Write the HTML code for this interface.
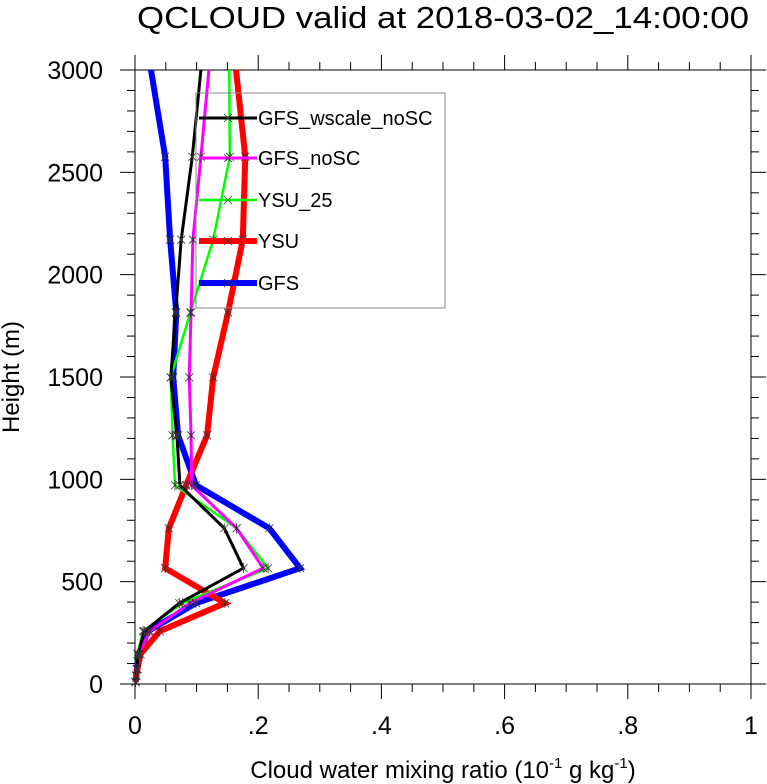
<!DOCTYPE html>
<html><head><meta charset="utf-8"><style>
html,body{margin:0;padding:0;background:#fff;}
svg{display:block;font-family:"Liberation Sans",sans-serif;}
</style></head><body>
<svg id="chart" width="767" height="784" xmlns="http://www.w3.org/2000/svg">
<text x="443" y="28" font-size="31" text-anchor="middle" textLength="612" lengthAdjust="spacingAndGlyphs">QCLOUD valid at 2018-03-02_14:00:00</text>
<text x="443" y="778" font-size="24" text-anchor="middle">Cloud water mixing ratio (10<tspan dy="-10" font-size="15">-1</tspan><tspan dy="10"> g kg</tspan><tspan dy="-10" font-size="15">-1</tspan><tspan dy="10">)</tspan></text>
<text transform="translate(19,377) rotate(-90)" font-size="24" text-anchor="middle">Height (m)</text>
<g id="axes"></g>
<g id="series"></g>
<g id="legend"></g>
</svg>
<script>
const heights=[10,40,73,146,258,395,566,761,971,1215,1498,1815,2171,2576,3000];
const seriesNames=["GFS_wscale_noSC","GFS_noSC","YSU_25","YSU","GFS"];
const gfsWscaleNoSC=[0.001,0.002,0.003,0.005,0.015,0.072,0.176,0.145,0.073,0.068,0.058,0.066,0.075,0.093,0.107];
const gfsNoSC=[0.001,0.002,0.003,0.006,0.024,0.089,0.208,0.165,0.092,0.091,0.088,0.091,0.094,0.107,0.12];
const ysu25=[0.001,0.002,0.003,0.004,0.013,0.077,0.216,0.165,0.065,0.061,0.058,0.09,0.127,0.154,0.153];
const ysu=[0.001,0.002,0.004,0.009,0.04,0.146,0.049,0.055,0.083,0.117,0.127,0.151,0.175,0.179,0.164];
const gfs=[0.001,0.002,0.003,0.006,0.021,0.099,0.268,0.218,0.099,0.07,0.062,0.067,0.057,0.049,0.026];
const xTickLabels=["0",".2",".4",".6",".8","1"];
const yTickLabels=["0","500","1000","1500","2000","2500","3000"];
const NS="http://www.w3.org/2000/svg";
const X0=135,X1=751,Y0=684,Y1=70;
function xs(v){return X0+(X1-X0)*v;}
function ys(h){return Y0-(Y0-Y1)*h/3000;}
function mk(t,a,p){const e=document.createElementNS(NS,t);for(const k in a)e.setAttribute(k,a[k]);p.appendChild(e);return e;}
const axes=document.getElementById('axes');
const frame=mk('rect',{x:X0,y:Y1,width:X1-X0,height:Y0-Y1,fill:'none',stroke:'#000','stroke-width':1},axes);


for(let i=0;i<=20;i++){const v=i*0.05,x=xs(v),L=(i%4==0)?15:8;
 const t1=mk('line',{x1:x,y1:Y0,x2:x,y2:Y0+L,stroke:'#000'},axes);
 
 
 const t2=mk('line',{x1:x,y1:Y1,x2:x,y2:Y1-L,stroke:'#000'},axes);
 
 }
xTickLabels.forEach((s,i)=>{const t=mk('text',{x:xs(i*0.2),y:Y0+50,'font-size':25,'text-anchor':'middle'},axes);t.textContent=s;
 
 });
for(let i=0;i<=30;i++){const h=i*100,y=ys(h),L=(i%5==0)?15:8;
 const t1=mk('line',{x1:X0,y1:y,x2:X0-L,y2:y,stroke:'#000'},axes);
 
 
 const t2=mk('line',{x1:X1,y1:y,x2:X1+L,y2:y,stroke:'#000'},axes);
 
 }
yTickLabels.forEach((s,i)=>{const t=mk('text',{x:X0-32,y:ys(i*500)+9,'font-size':25,'text-anchor':'end'},axes);t.textContent=s;
 
 });
const styles=[{c:'#000',w:3},{c:'#ff00ff',w:3},{c:'#00ff00',w:2.5},{c:'#ff0000',w:6},{c:'#0000ff',w:6}];
const data=[gfsWscaleNoSC,gfsNoSC,ysu25,ysu,gfs];
const sg=document.getElementById('series');
const order=[4,3,2,1,0];
order.forEach(k=>{const vals=data[k],st=styles[k];
 const pts=vals.map((v,i)=>xs(v)+','+ys(heights[i])).join(' ');
 const pl=mk('polyline',{points:pts,fill:'none',stroke:st.c,'stroke-width':st.w,'stroke-linejoin':'miter'},sg);
 
 });
order.forEach(k=>{data[k].forEach((v,i)=>{if(heights[i]>=3000)return;const x=xs(v),y=ys(heights[i]);
 const m=mk('path',{d:`M${x-4},${y-4}L${x+4},${y+4}M${x-4},${y+4}L${x+4},${y-4}M${x},${y-5}L${x},${y+5}`,stroke:'#333','stroke-width':0.8},sg);
 
 });});
const lg=document.getElementById('legend');
const box=mk('rect',{x:196,y:93,width:249,height:215,fill:'none',stroke:'#888','stroke-width':1},lg);


const ly=[118,158,200,241,283];
seriesNames.forEach((n,k)=>{const st=styles[k];
 const g=mk('g',{},lg);
 
 
 mk('line',{x1:199,y1:ly[k],x2:257,y2:ly[k],stroke:st.c,'stroke-width':st.w},g);
 mk('path',{d:`M${224},${ly[k]-4}L${232},${ly[k]+4}M${224},${ly[k]+4}L${232},${ly[k]-4}`,stroke:'#333','stroke-width':0.8},g);
 const t=mk('text',{x:258,y:ly[k]+7,'font-size':20},g);t.textContent=n;});
</script>
</body></html>
